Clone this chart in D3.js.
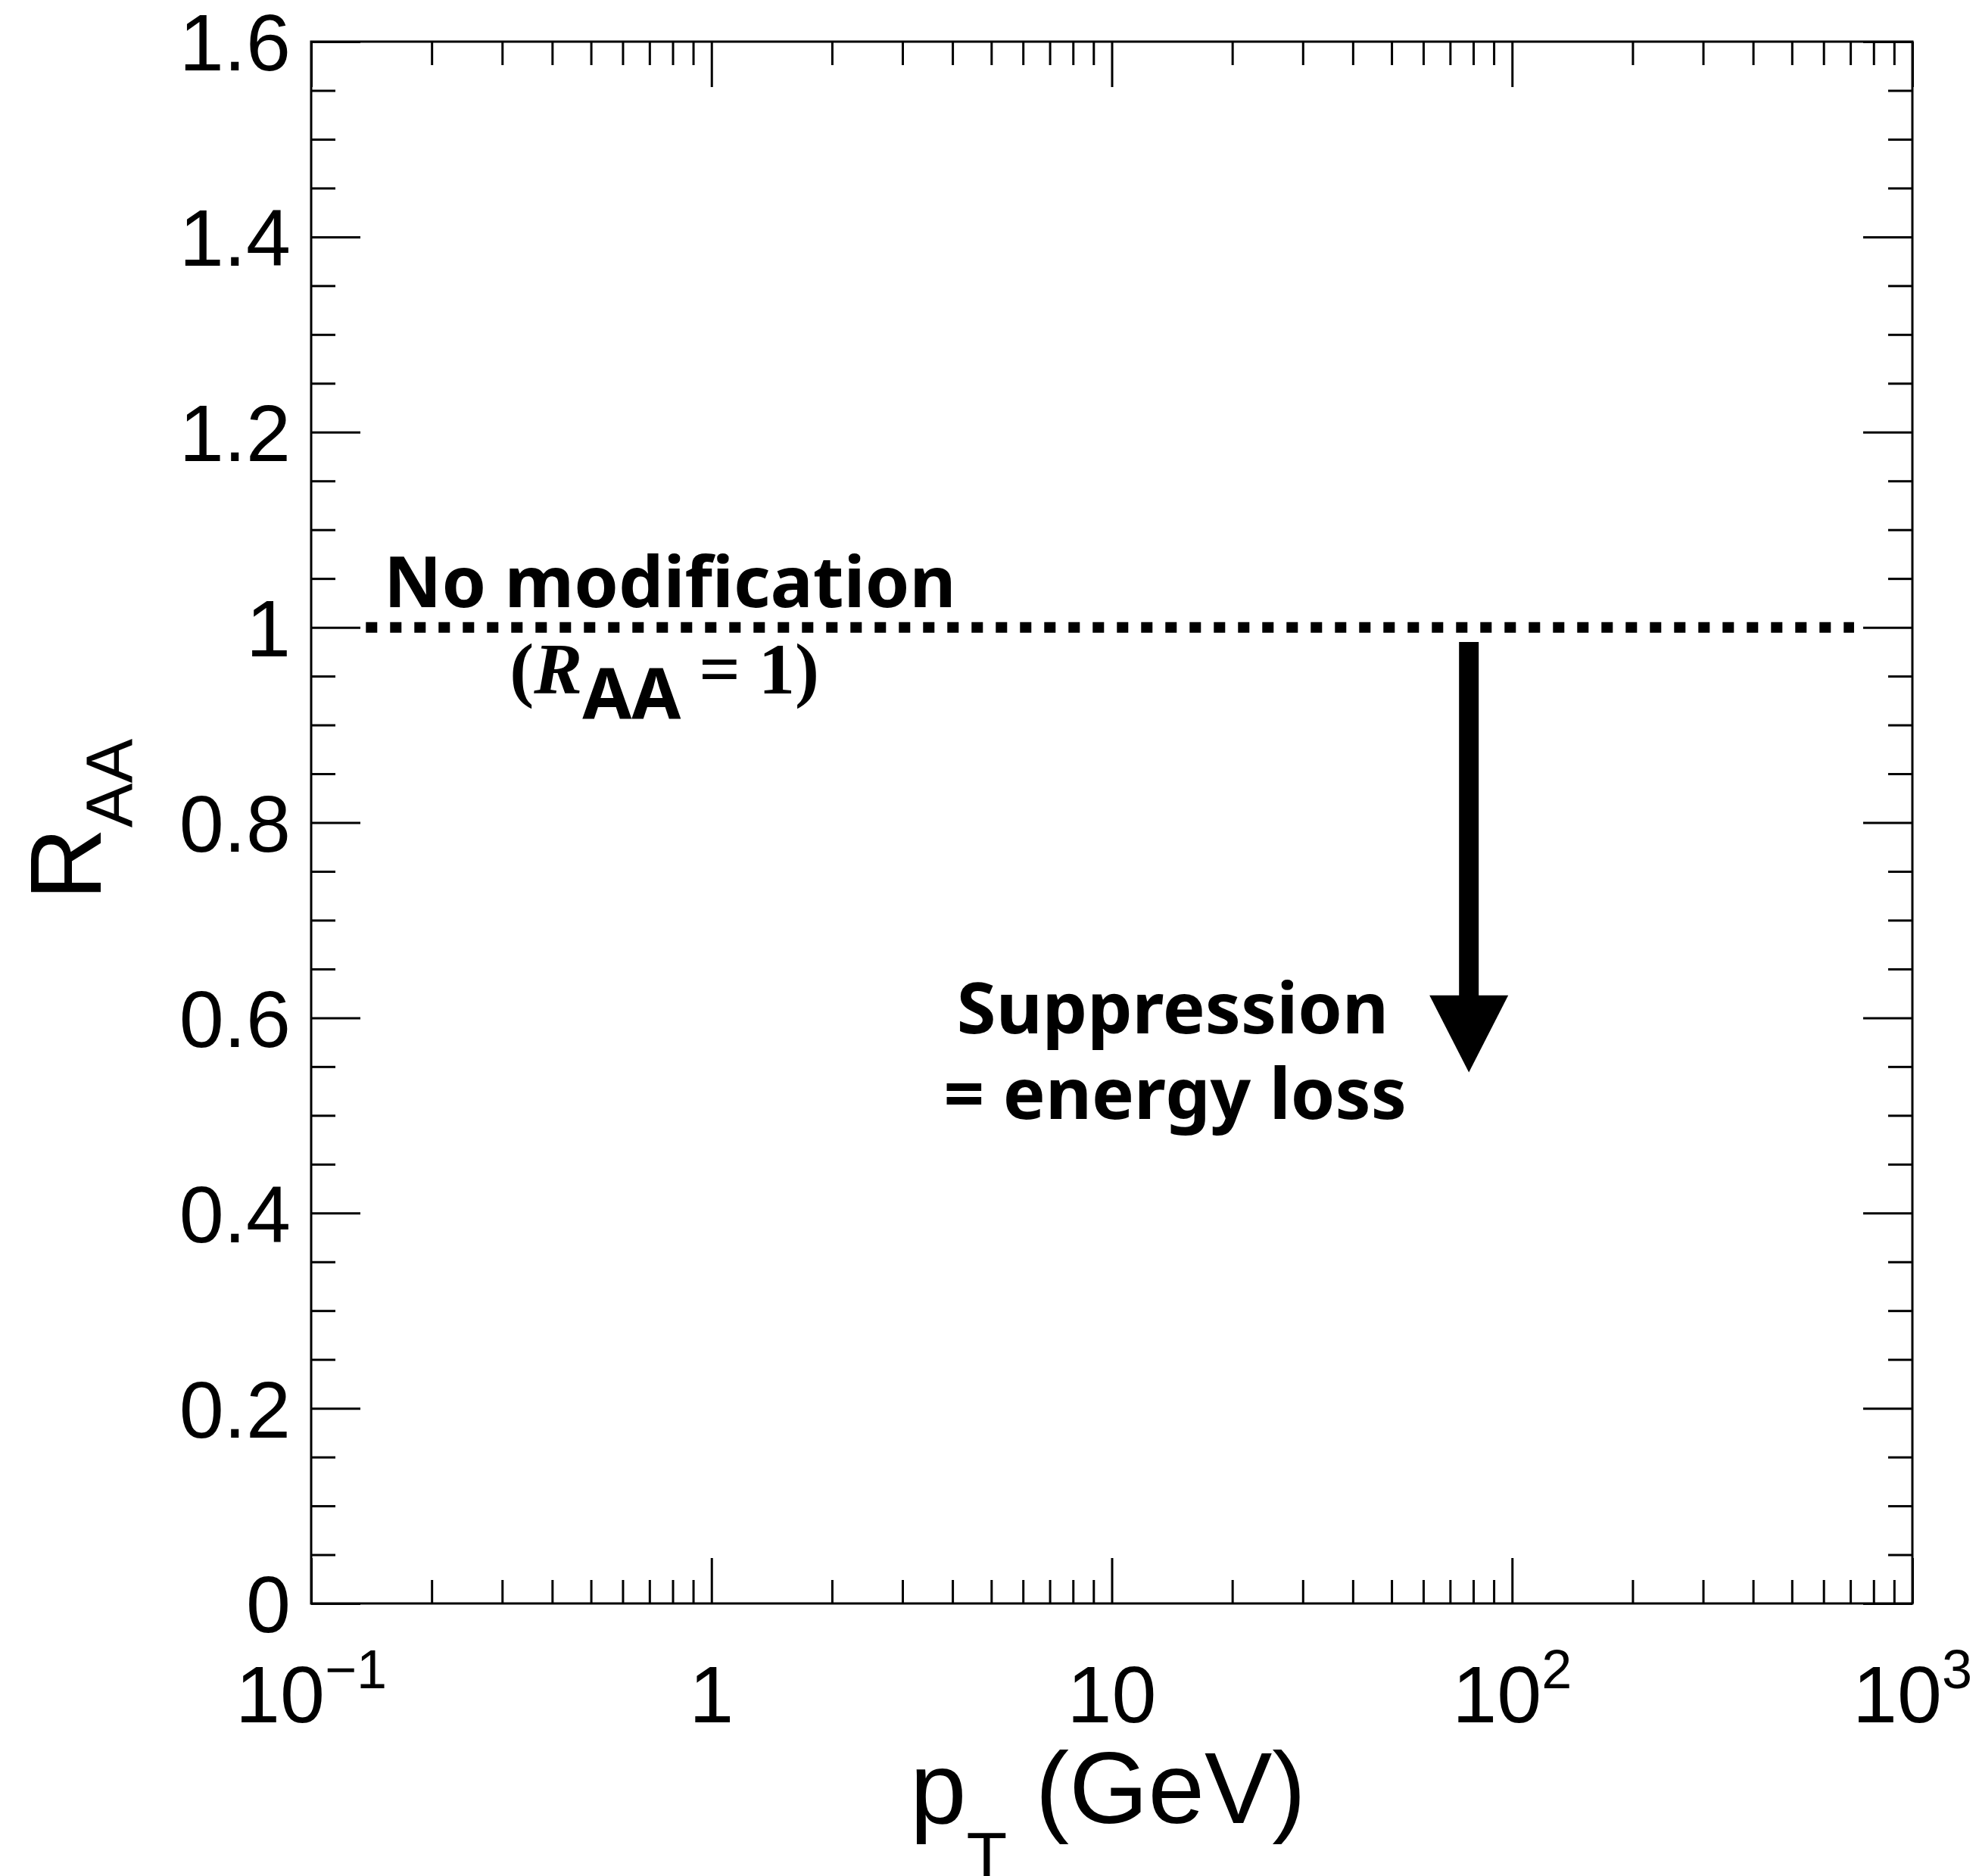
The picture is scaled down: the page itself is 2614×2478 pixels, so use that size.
<!DOCTYPE html>
<html>
<head>
<meta charset="utf-8">
<script src="https://cdn.jsdelivr.net/npm/d3@7"></script>
<style>
  html, body { margin: 0; padding: 0; background: #fff; }
  svg { display: block; }
</style>
</head>
<body>
<script>
// ---------- data ----------
const xDomain = [0.1, 1000];
const yDomain = [0, 1.6];
const yMajorTicks = [0, 0.2, 0.4, 0.6, 0.8, 1.0, 1.2, 1.4, 1.6];
const yTickLabels = ["0", "0.2", "0.4", "0.6", "0.8", "1", "1.2", "1.4", "1.6"];
const yMinorTicks = [0.05,0.1,0.15,0.25,0.3,0.35,0.45,0.5,0.55,0.65,0.7,0.75,0.85,0.9,0.95,1.05,1.1,1.15,1.25,1.3,1.35,1.45,1.5,1.55];
const xMajorTicks = [0.1, 1, 10, 100, 1000];
const xTickBase = ["10", "1", "10", "10", "10"];
const xTickExp = ["\u22121", "", "", "2", "3"];
const xMinorTicks = [0.2,0.3,0.4,0.5,0.6,0.7,0.8,0.9,2,3,4,5,6,7,8,9,20,30,40,50,60,70,80,90,200,300,400,500,600,700,800,900];
// reference line R_AA = 1
const refLineX = [0.137, 715];
const refLineY = 1.0;
// suppression arrow (pT, R_AA top, head base, tip)
const arrowX = 78;
const arrowY = [0.985, 0.623, 0.544];
// annotation anchors (data coords)
const noModAnchor = [0.787, 1.021];
const raaAnchor = [0.763, 0.932];
const suppAnchor = [[14.2, 0.584], [14.4, 0.4965]];
const suppLines = ["Suppression", "= energy loss"];

// ---------- layout ----------
const W = 2614, H = 2478;
const x = d3.scaleLog().domain(xDomain).range([411, 2526]);
const y = d3.scaleLinear().domain(yDomain).range([2118, 55]);
const axisFont = "'Liberation Sans', Arial, Helvetica, sans-serif";
const boldFont = "'Noto Sans', 'Open Sans', sans-serif";
const serifFont = "'Liberation Serif', 'Times New Roman', serif";

const svg = d3.select("body").append("svg").attr("width", W).attr("height", H);
svg.append("rect").attr("width", W).attr("height", H).attr("fill", "#fff");

const majY = 65, minY = 32, majX = 60, minX = 31;
const sw = 3;

function styleAxis(g) {
  g.select(".domain").remove();
  g.selectAll(".tick line").attr("stroke", "#000").attr("stroke-width", sw);
}

// left axis
const gl = svg.append("g").attr("transform", `translate(${x.range()[0]},0)`)
  .call(d3.axisLeft(y).tickValues(yMajorTicks).tickSize(-majY).tickPadding(27)
    .tickFormat((d, i) => yTickLabels[i]));
styleAxis(gl);
gl.selectAll(".tick text").attr("font-family", axisFont).attr("font-size", 106)
  .attr("fill", "#000").attr("dy", "0.358em");
const glm = svg.append("g").attr("transform", `translate(${x.range()[0]},0)`)
  .call(d3.axisLeft(y).tickValues(yMinorTicks).tickSize(-minY).tickFormat(""));
styleAxis(glm);

// right axis
const gr = svg.append("g").attr("transform", `translate(${x.range()[1]},0)`)
  .call(d3.axisRight(y).tickValues(yMajorTicks).tickSize(-majY).tickFormat(""));
styleAxis(gr);
const grm = svg.append("g").attr("transform", `translate(${x.range()[1]},0)`)
  .call(d3.axisRight(y).tickValues(yMinorTicks).tickSize(-minY).tickFormat(""));
styleAxis(grm);

// bottom axis
const gb = svg.append("g").attr("transform", `translate(0,${y.range()[0]})`)
  .call(d3.axisBottom(x).tickValues(xMajorTicks).tickSize(-majX).tickFormat(""));
styleAxis(gb);
const gbm = svg.append("g").attr("transform", `translate(0,${y.range()[0]})`)
  .call(d3.axisBottom(x).tickValues(xMinorTicks).tickSize(-minX).tickFormat(""));
styleAxis(gbm);

// top axis
const gt = svg.append("g").attr("transform", `translate(0,${y.range()[1]})`)
  .call(d3.axisTop(x).tickValues(xMajorTicks).tickSize(-majX).tickFormat(""));
styleAxis(gt);
const gtm = svg.append("g").attr("transform", `translate(0,${y.range()[1]})`)
  .call(d3.axisTop(x).tickValues(xMinorTicks).tickSize(-minX).tickFormat(""));
styleAxis(gtm);

// x tick labels with superscripts
xMajorTicks.forEach((v, i) => {
  const t = svg.append("text")
    .attr("x", x(v)).attr("y", y.range()[0] + 157)
    .attr("text-anchor", "middle")
    .attr("font-family", axisFont).attr("font-size", 106).attr("fill", "#000");
  t.append("tspan").text(xTickBase[i]);
  if (xTickExp[i]) {
    t.append("tspan").attr("dy", -45).attr("font-size", 72).text(xTickExp[i]);
  }
});

// frame
svg.append("rect")
  .attr("x", x.range()[0]).attr("y", y.range()[1])
  .attr("width", x.range()[1] - x.range()[0])
  .attr("height", y.range()[0] - y.range()[1])
  .attr("fill", "none").attr("stroke", "#000").attr("stroke-width", sw);

// axis titles
const xt = svg.append("text")
  .attr("x", (x.range()[0] + x.range()[1]) / 2 - 5).attr("y", 2408)
  .attr("text-anchor", "middle").attr("font-family", axisFont)
  .attr("font-size", 134).attr("fill", "#000");
xt.append("tspan").text("p");
xt.append("tspan").attr("dy", 73).attr("font-size", 88).text("T");
xt.append("tspan").attr("dy", -73).text(" (GeV)");

const yt = svg.append("text")
  .attr("transform", `translate(133,${(y.range()[0] + y.range()[1]) / 2 - 4}) rotate(-90)`)
  .attr("text-anchor", "middle").attr("font-family", axisFont)
  .attr("font-size", 133).attr("fill", "#000");
yt.append("tspan").text("R");
yt.append("tspan").attr("dy", 42).attr("font-size", 88).text("AA");

// reference dotted line
svg.append("path")
  .attr("d", d3.line()([[x(refLineX[0]), y(refLineY)], [x(refLineX[1]), y(refLineY)]]))
  .attr("stroke", "#000").attr("stroke-width", 14)
  .attr("stroke-dasharray", "15 17").attr("fill", "none");

// arrow
const ax = x(arrowX);
svg.append("line")
  .attr("x1", ax).attr("x2", ax)
  .attr("y1", y(arrowY[0])).attr("y2", y(arrowY[1]) + 2)
  .attr("stroke", "#000").attr("stroke-width", 26);
svg.append("path")
  .attr("d", d3.line()([[ax - 52, y(arrowY[1])], [ax + 52, y(arrowY[1])], [ax, y(arrowY[2])]]) + "Z")
  .attr("fill", "#000");

// annotations
svg.append("text")
  .attr("x", x(noModAnchor[0])).attr("y", y(noModAnchor[1]))
  .attr("text-anchor", "middle").attr("font-family", boldFont)
  .attr("font-weight", 700).attr("font-size", 94).attr("fill", "#000")
  .text("No modification");

const rt = svg.append("text")
  .attr("x", x(raaAnchor[0])).attr("y", y(raaAnchor[1]))
  .attr("text-anchor", "middle").attr("font-family", serifFont)
  .attr("font-weight", 700).attr("font-size", 96).attr("fill", "#000");
rt.append("tspan").text("(");
rt.append("tspan").attr("font-style", "italic").text("R");
rt.append("tspan").attr("dy", 34).attr("font-family", boldFont)
  .attr("font-weight", 700).attr("font-size", 94).text("AA");
rt.append("tspan").attr("dy", -34).text(" = 1)");

suppLines.forEach((s, i) => {
  svg.append("text")
    .attr("x", x(suppAnchor[i][0])).attr("y", y(suppAnchor[i][1]))
    .attr("text-anchor", "middle").attr("font-family", boldFont)
    .attr("font-weight", 700).attr("font-size", 94).attr("fill", "#000")
    .text(s);
});
</script>
</body>
</html>
